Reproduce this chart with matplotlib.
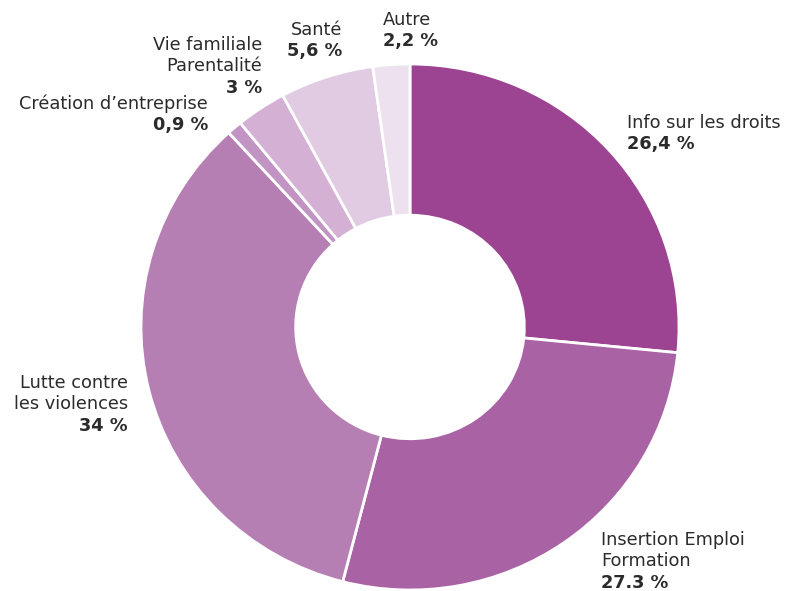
import matplotlib
matplotlib.use("Agg")
import matplotlib.pyplot as plt

# Données du graphique
categories = ["Info sur les droits", "Insertion Emploi\nFormation", "Lutte contre\nles violences",
              "Création d’entreprise", "Vie familiale\nParentalité", "Santé", "Autre"]
values = [26.4, 27.3, 34, 0.9, 3, 5.6, 2.2]
pct_labels = ["26,4 %", "27.3 %", "34 %", "0,9 %", "3 %", "5,6 %", "2,2 %"]
colors = ["#9C4391", "#A962A4", "#B67FB4", "#C294C3", "#D3B0D4", "#E0CBE3", "#EEE1EF"]

W, H = 787, 591
fig = plt.figure(figsize=(W / 100, H / 100), dpi=100)
ax = fig.add_axes([0, 0, 1, 1])

# l'anneau de référence est légèrement plus large que haut
k = 269 / 263
cx, cy, R = 410, (H - 327) * k, 269
ax.pie(values, colors=colors, startangle=90, counterclock=False,
       center=(cx, cy), radius=R, normalize=True,
       wedgeprops=dict(width=R * 0.575, edgecolor="white", linewidth=2))
ax.set_xlim(0, W)
ax.set_ylim(0, H * k)
ax.set_aspect("auto")
ax.axis("off")

plt.rcParams["font.family"] = ["DejaVu Sans"]
TXT = "#2b2b2b"
FS = 12.8

# positions des étiquettes (px depuis le coin haut-gauche), alignement
label_pos = [
    (627, 123, "left"),
    (601, 540, "left"),
    (128, 383, "right"),
    (208, 104, "right"),
    (262, 45, "right"),
    (342, 30, "right"),
    (383, 20, "left"),
]
LH = 21.3
for cat, pct, (x, y, ha) in zip(categories, pct_labels, label_pos):
    lines = cat.split("\n")
    for i, line in enumerate(lines):
        fig.text(x / W, 1 - (y + i * LH) / H, line, ha=ha, va="center",
                 fontsize=FS, color=TXT)
    fig.text(x / W, 1 - (y + len(lines) * LH) / H, pct, ha=ha, va="center",
             fontsize=FS, color=TXT, fontweight="bold")

fig.savefig("out.png", dpi=100)
